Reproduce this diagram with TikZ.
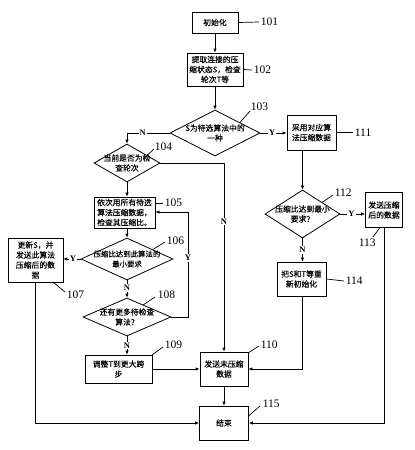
\documentclass[tikz,border=0pt]{standalone}
\usepackage{fontspec}
\setmainfont{Liberation Serif}
\newfontfamily\cjk{Noto Sans CJK SC}[FakeBold=0.25]
\usetikzlibrary{arrows.meta,shapes.geometric}
\begin{document}
\begin{tikzpicture}[x=1pt,y=-1pt, line width=0.8pt,
 box/.style={draw, inner sep=0pt, align=center, font=\cjk\fontsize{7.8}{10}\selectfont},
 dia/.style={draw, diamond, inner sep=0pt},
 txt/.style={align=center, font=\cjk\fontsize{7.8}{10}\selectfont, inner sep=0pt},
 num/.style={font=\fontsize{11.5}{12}\selectfont, inner sep=1.5pt, anchor=west},
 yn/.style={font=\fontsize{8.5}{8.5}\selectfont\bfseries, fill=white, inner sep=1pt},
 lead/.style={line width=0.7pt},
 arr/.style={-{Latex[length=4pt,width=3.5pt]}}]
\useasboundingbox[fill=white] (0,0) rectangle (415,450);

% boxes and decisions
\node[box, minimum width=46pt, minimum height=21pt] (b101) at (215,22.5) {初始化};
\node[box, minimum width=56pt, minimum height=33pt] (b102) at (215,69.5) {提取连接的压\\缩状态S，检查\\轮次T等};
\node[dia, minimum width=90pt, minimum height=46pt] (d103) at (215,133) {};
\node[txt] at (d103) {S为待选算法中的\\一种};
\node[box, minimum width=49pt, minimum height=35pt] (b111) at (311.5,132.5) {采用对应算\\法压缩数据};
\node[dia, minimum width=66pt, minimum height=38pt] (d104) at (127,163) {};
\node[txt] at (d104) {当前是否为检\\查轮次};
\node[box, minimum width=61pt, minimum height=31pt] (b105) at (124.5,212.5) {依次用所有待选\\算法压缩数据，\\检查其压缩比。};
\node[dia, minimum width=92pt, minimum height=42pt] (d106) at (127,259) {};
\node[txt, font=\cjk\fontsize{7.4}{10}\selectfont] at (d106) {压缩比达到此算法的\\最小要求};
\node[box, minimum width=55pt, minimum height=44pt] (b107) at (35.5,260) {更新S，并\\发送此算法\\压缩后的数\\据};
\node[dia, minimum width=88pt, minimum height=38pt] (d108) at (127,317) {};
\node[txt] at (d108) {还有更多待检查\\算法？};
\node[box, minimum width=67pt, minimum height=28pt] (b109) at (118.5,369) {调整T到更大跨\\步};
\node[box, minimum width=48pt, minimum height=34pt] (b110) at (224,369) {发送未压缩\\数据};
\node[box, minimum width=49pt, minimum height=34pt] (b115) at (224,423) {结束};
\node[dia, minimum width=75pt, minimum height=48pt] (d112) at (302.5,214) {};
\node[txt] at (d112) {压缩比达到最小\\要求？};
\node[box, minimum width=37pt, minimum height=35pt] (b113) at (384,210) {发送压缩\\后的数据};
\node[box, minimum width=49pt, minimum height=34pt] (b114) at (301.5,279) {把S和T等重\\新初始化};

% reference numbers
\node[num] (n101) at (259,22) {101};
\node[num] (n102) at (252,70) {102};
\node[num] (n103) at (249,107) {103};
\node[num] (n111) at (353,132.5) {111};
\node[num] (n104) at (153,147) {104};
\node[num] (n105) at (163,203) {105};
\node[num] (n106) at (165,241) {106};
\node[num] (n107) at (65,295) {107};
\node[num] (n108) at (156,295) {108};
\node[num] (n109) at (163,345) {109};
\node[num] (n110) at (259,345) {110};
\node[num] (n115) at (261,404) {115};
\node[num] (n112) at (333,193) {112};
\node[num] (n113) at (357,243) {113};
\node[num] (n114) at (344,281) {114};

% leader lines
\draw[lead] (b101.east) -- (n101.west);
\draw[lead] (b102.east) -- (n102.west);
\draw[lead] (240,122.5) -- (250,111);
\draw[lead] (b111.east) -- (n111.west);
\draw[lead] (147,155.5) -- (154,149);
\draw[lead] (155,203) -- (n105.west);
\draw[lead] (153,249.4) -- (165,242);
\draw[lead] (53,282) -- (65,292);
\draw[lead] (143,305) -- (155,297);
\draw[lead] (152,355) -- (163,347);
\draw[lead] (248,353) -- (259,346);
\draw[lead] (248.5,416) -- (260,406);
\draw[lead] (322,202.5) -- (333,195);
\draw[lead] (380,227.5) -- (373,237);
\draw[lead] (b114.east) -- (n114.west);

% connectors
\coordinate (c108) at (188,317);
\coordinate (c105) at (188,212);
\draw[arr] (b101) -- (b102);
\draw[arr] (b102) -- (d103);
\draw[arr] (d103.east) -- node[yn, pos=0.45]{Y} (d103.east -| b111.west);
\draw[arr] (d103.west) -- node[yn, pos=0.63]{N} (d103.west -| d104.north) -- (d104.north);
\draw[arr] (d104.east) -- (d104.east -| b110.north) -- node[yn, pos=0.31]{N} (b110.north);
\draw[arr] (d104.south) -- (d104.south |- b105.north);
\draw[arr] (d106.north |- b105.south) -- (d106.north);
\draw[arr] (d106.west) -- node[yn, pos=0.45]{Y} (d106.west -| b107.east);
\draw[arr] (d106.south) -- node[yn, pos=0.45]{N} (d108.north);
\draw[arr] (d108.east) -- (c108) -- node[yn, pos=0.56]{Y} (c105) -- (c105 -| b105.east);
\draw[arr] (d108.south) -- node[yn, pos=0.5]{N} (d108.south |- b109.north);
\draw[arr] (b109.east) -- (b110.west);
\draw[arr] (b110) -- (b115);
\draw[arr] (b107.south) -- (b107.south |- b115.west) -- (b115.west);
\draw[arr] (b111.south -| d112.north) -- (d112.north);
\draw[arr] (d112.east) -- node[yn, pos=0.45]{Y} (d112.east -| b113.west);
\draw[arr] (d112.south) -- node[yn, pos=0.5]{N} (d112.south |- b114.north);
\draw[arr] (d112.south |- b114.south) -- (d112.south |- b110.east) -- (b110.east);
\draw[arr] (b113.south) -- (b113.south |- b115.east) -- (b115.east);
\end{tikzpicture}
\end{document}
